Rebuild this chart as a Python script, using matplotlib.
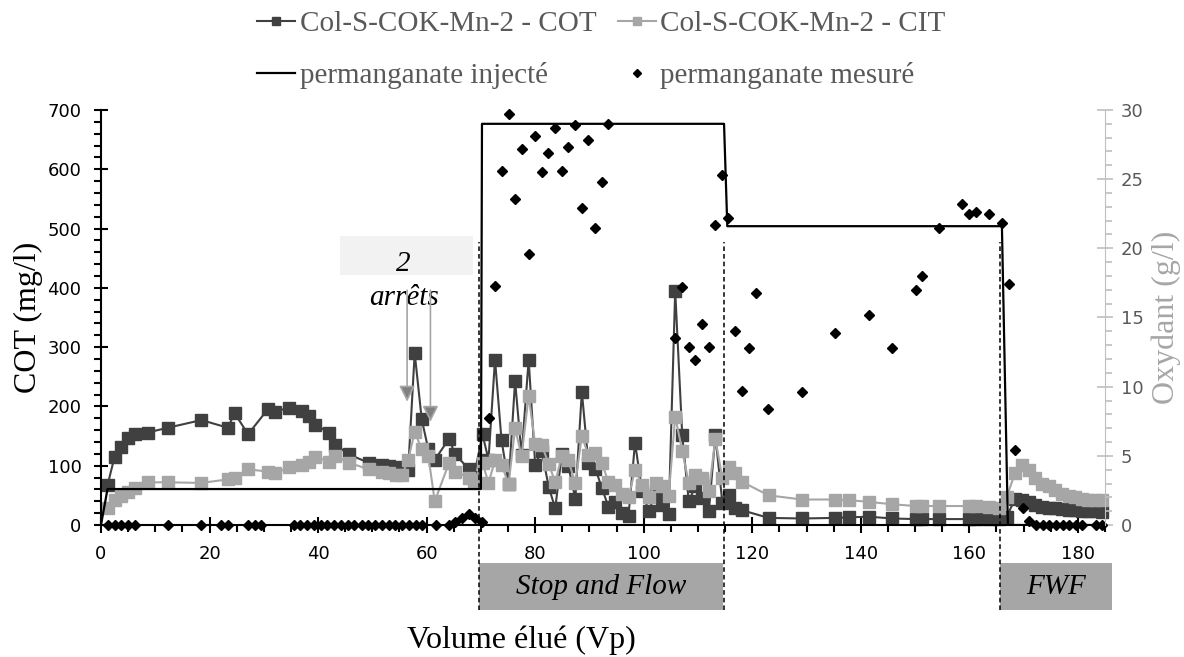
import numpy as np
import matplotlib
matplotlib.use("Agg")
import matplotlib.pyplot as plt
from matplotlib.patches import Rectangle
from matplotlib.ticker import MultipleLocator
import matplotlib.transforms as mtransforms

# Echantillons (Vp) - COT / CIT en mg/l
x_ech = [1.2, 2.5, 3.7, 4.9, 6.2, 8.6, 12.3, 18.5, 23.4, 24.6,
         27.1, 30.8, 32.1, 34.6, 37.0, 38.3, 39.5, 42.0, 43.2, 45.7,
         49.3, 51.8, 53.0, 54.3, 55.5, 56.6, 57.8, 59.1, 60.3, 61.5,
         64.1, 65.3, 67.8, 68.7, 70.3, 71.4, 72.6, 73.8, 75.1, 76.3,
         77.5, 78.8, 80.0, 81.2, 82.5, 83.7, 84.9, 86.1, 87.4, 88.6,
         89.8, 91.1, 92.3, 93.5, 94.8, 96.0, 97.2, 98.4, 99.7, 100.9,
         102.2, 103.4, 104.6, 105.8, 107.1, 108.3, 109.5, 110.8, 112.0, 113.2,
         114.5, 115.7, 116.9, 118.1, 123.0, 129.2, 135.3, 137.8, 141.5, 145.8,
         150.1, 151.3, 154.4, 159.9, 161.2, 163.6, 165.5, 166.9, 168.4, 169.7,
         170.9, 172.1, 173.3, 174.6, 175.8, 177.0, 178.3, 179.5, 180.7, 181.9,
         183.2, 184.4]
cot = [67, 115, 132, 147, 153, 156, 164, 177, 164, 189,
       153, 196, 191, 198, 192, 184, 169, 156, 135, 119,
       105, 102, 100, 98, 96, 93, 290, 178, 128, 110,
       145, 119, 94, 81, 153, 110, 279, 143, 70, 243,
       118, 279, 102, 125, 64, 28, 119, 100, 44, 225,
       105, 95, 62, 31, 38, 20, 16, 139, 57, 24,
       53, 33, 18, 395, 151, 40, 65, 46, 23, 151,
       37, 50, 28, 25, 12, 11, 12, 13, 14, 11,
       10, 10, 10, 10, 10, 10, 10, 14, 44, 42,
       38, 33, 30, 29, 28, 27, 26, 25, 24, 24,
       23, 22]
cit = [28, 42, 49, 56, 63, 72, 72, 71, 77, 79,
       94, 90, 87, 97, 101, 106, 115, 107, 116, 105,
       94, 90, 87, 85, 85, 110, 157, 128, 117, 40,
       104, 90, 79, 73, 105, 71, 109, 102, 69, 163,
       116, 218, 136, 135, 103, 72, 117, 109, 71, 150,
       118, 121, 105, 72, 67, 53, 47, 93, 67, 48,
       71, 65, 49, 183, 125, 71, 85, 80, 57, 145,
       79, 98, 87, 73, 50, 43, 43, 42, 39, 35,
       32, 32, 32, 32, 32, 30, 28, 48, 87, 101,
       93, 79, 70, 65, 59, 53, 49, 47, 44, 43,
       42, 42]

# permanganate injecte (g/l)
inj_x = [0, 1.2, 70.0, 70.2, 114.8, 115.4, 166.0, 167.1, 185]
inj_y = [0, 2.6, 2.6, 29.0, 29.0, 21.6, 21.6, 0, 0]

# permanganate mesure (g/l)
mes_x = [1.2, 2.5, 3.7, 4.9, 6.2, 12.3, 18.5, 22.2, 23.4, 27.1, 28.3, 29.5,
         35.5, 36.7, 38.0, 39.2, 40.5, 41.7, 43.0, 44.2, 45.5, 46.7,
         48.0, 49.2, 50.5, 51.7, 53.0, 54.2, 55.5, 56.7, 58.0, 59.2,
         61.7, 64.1, 65.3, 66.6, 67.8, 69.0, 70.2,
         71.5, 72.6, 73.8, 75.1, 76.3, 77.5, 78.8, 80.0, 81.2, 82.4,
         83.7, 84.9, 86.1, 87.4, 88.6, 89.8, 91.1, 92.3, 93.5,
         105.8, 107.1, 108.3, 109.5, 110.8, 112.0, 113.2, 114.5, 115.6, 116.9,
         118.1, 119.4, 120.6, 122.9, 129.2, 135.3, 141.5, 145.7, 150.1, 151.3,
         154.4, 158.7, 159.9, 161.2, 163.6, 166.1, 167.3, 168.5, 169.8, 171.0,
         172.2, 173.5, 174.7, 175.9, 177.2, 178.4, 179.6, 180.8, 183.3, 184.5]
mes_y = [0, 0, 0, 0, 0, 0, 0, 0, 0, 0, 0, 0,
         0, 0, 0, 0, 0, 0, 0, 0, 0, 0,
         0, 0, 0, 0, 0, 0, 0, 0, 0, 0,
         0, 0, 0.2, 0.5, 0.8, 0.5, 0.25,
         7.7, 17.3, 25.6, 29.7, 23.6, 27.2, 19.6, 28.1, 25.5, 26.9,
         28.7, 25.6, 27.3, 28.9, 22.9, 27.8, 21.5, 24.8, 29.0,
         13.5, 17.2, 12.9, 11.9, 14.5, 12.9, 21.7, 25.3, 22.2, 14.0,
         9.7, 12.8, 16.8, 8.4, 9.6, 13.9, 15.2, 12.8, 17.0, 18.0,
         21.5, 23.2, 22.5, 22.6, 22.5, 21.8, 17.4, 5.4, 1.2, 0.3,
         0, 0, 0, 0, 0, 0, 0, 0, 0, 0]

serif = "Liberation Serif"
plt.rcParams['font.family'] = 'DejaVu Sans'

fig = plt.figure(figsize=(11.84, 6.57), dpi=100)
ax = fig.add_axes([0.0853, 0.2009, 0.848, 0.6317])
ax2 = ax.twinx()

l_cot, = ax.plot(x_ech, cot, color='#404040', marker='s', ms=9, lw=1.5,
                 label='Col-S-COK-Mn-2 - COT', clip_on=False)
l_cit, = ax.plot(x_ech, cit, color='#a6a6a6', marker='s', ms=9, lw=1.5,
                 label='Col-S-COK-Mn-2 - CIT', clip_on=False)
l_inj, = ax2.plot(inj_x, inj_y, color='black', lw=1.6, label='permanganate injecté')
l_mes, = ax2.plot(mes_x, mes_y, 'D', color='black', ms=5.5, ls='none',
                  label='permanganate mesuré', clip_on=False)

ax.set_xlim(0, 185)
ax.set_ylim(0, 700)
ax2.set_ylim(0, 30)

# axes / ticks
for s in ['top', 'right']:
    ax.spines[s].set_visible(False)
ax2.spines['top'].set_visible(False)
ax2.spines['left'].set_visible(False)
ax2.spines['bottom'].set_visible(False)
ax2.spines['right'].set_color('#bfbfbf')
ax.spines['left'].set_linewidth(1.5)
ax.spines['bottom'].set_linewidth(1.5)

ax.xaxis.set_major_locator(MultipleLocator(20))
ax.xaxis.set_minor_locator(MultipleLocator(5))
ax.yaxis.set_major_locator(MultipleLocator(100))
ax.yaxis.set_minor_locator(MultipleLocator(20))
ax2.yaxis.set_major_locator(MultipleLocator(5))
ax2.yaxis.set_minor_locator(MultipleLocator(1))

ax.tick_params(axis='x', which='major', direction='inout', length=11, width=1.5,
               labelsize=13, pad=9)
ax.tick_params(axis='x', which='minor', direction='out', length=5, width=1.5)
ax.tick_params(axis='y', which='major', direction='inout', length=10, width=1.5,
               labelsize=13, pad=9)
ax.tick_params(axis='y', which='minor', direction='out', length=5, width=1.5)
ax2.tick_params(axis='y', which='major', direction='inout', length=11, width=1.2,
                color='#bfbfbf', labelcolor='#595959', labelsize=13, pad=6)
ax2.tick_params(axis='y', which='minor', direction='out', length=5, width=1.2,
                color='#bfbfbf')

ax.set_ylabel('COT (mg/l)', fontfamily=serif, fontsize=23)
ax.yaxis.set_label_coords(-0.058, 0.5)
ax2.set_ylabel('Oxydant (g/l)', fontfamily=serif, fontsize=23, color='#a6a6a6')
ax2.yaxis.set_label_coords(1.046, 0.5)
ax.set_xlabel('Volume élué (Vp)', fontfamily=serif, fontsize=23)
ax.xaxis.set_label_coords(0.419, -0.242)

# zones du protocole
trans = mtransforms.blended_transform_factory(ax.transData, ax.transAxes)
for x0, x1, txt in [(69.6, 114.6, 'Stop and Flow'), (165.6, 186.3, 'FWF')]:
    ax.add_patch(Rectangle((x0, -0.205), x1 - x0, 0.113, transform=trans,
                           facecolor='#a6a6a6', edgecolor='none', clip_on=False))
    ax.text((x0 + x1) / 2, -0.149, txt, transform=trans, ha='center', va='center',
            fontfamily=serif, fontstyle='italic', fontsize=21)
for xv in [69.6, 114.8, 165.6]:
    ax.plot([xv, xv], [-0.205, 0.682], transform=trans, color='black', lw=1.1,
            dashes=(3, 2), clip_on=False)

# 2 arrets
ax.add_patch(Rectangle((44.1, 421.6), 24.4, 65.4, facecolor='#f2f2f2',
                       edgecolor='none', zorder=1))
ax.text(55.7, 441, '2', ha='center', va='center', fontfamily=serif,
        fontstyle='italic', fontsize=21)
ax.text(55.9, 383, 'arrêts', ha='center', va='center', fontfamily=serif,
        fontstyle='italic', fontsize=21)
for xa, ya in [(56.4, 208), (60.7, 174)]:
    ax.annotate('', xy=(xa, ya), xytext=(xa, 396),
                arrowprops=dict(arrowstyle='-|>,head_length=0.4,head_width=0.2',
                                mutation_scale=24, lw=1.2, edgecolor='#a6a6a6',
                                facecolor='#808080', shrinkA=0, shrinkB=0))

leg = fig.legend([l_cot, l_inj, l_cit, l_mes],
                 [l_cot.get_label(), l_inj.get_label(), l_cit.get_label(), l_mes.get_label()],
                 ncol=2, loc='upper left', bbox_to_anchor=(0.205, 1.006), frameon=False,
                 prop={'family': serif, 'size': 21}, markerscale=0.7,
                 handlelength=1.3, handletextpad=0.15, columnspacing=0.75,
                 labelspacing=0.85, borderaxespad=0.1)
for t in leg.get_texts():
    t.set_color('#595959')

fig.savefig('out.png', dpi=100)
